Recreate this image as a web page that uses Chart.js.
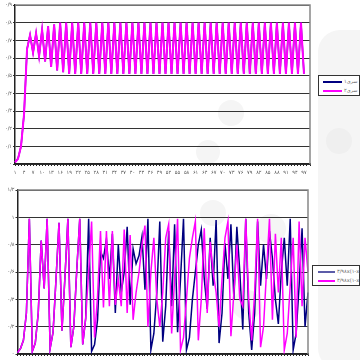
<!DOCTYPE html>
<html>
<head>
<meta charset="utf-8">
<script src="https://cdn.jsdelivr.net/npm/chart.js@4.4.1/dist/chart.umd.min.js"></script>
<style>
  html, body { margin: 0; padding: 0; background: #fff; overflow: hidden; }
  body { width: 360px; height: 360px; position: relative; font-family: "DejaVu Sans", sans-serif; }
  .box { position: absolute; left: 0; width: 360px; }
  .deco { position: absolute; background: #f5f5f5; border-radius: 50%; }
  .legend { position: absolute; border: 1px solid #333; background: #fff; font-size: 5px; color: #666; }
  .legend div { position: relative; height: 9px; line-height: 9px; white-space: nowrap; }
  .legend span.ln { position: absolute; top: 4px; height: 2px; }
  .legend span.tx { position: absolute; }
</style>
</head>
<body>
<!-- faint background shapes -->
<div class="deco" style="left:318px;top:30px;width:70px;height:340px;border-radius:22px;"></div>
<div class="deco" style="left:236px;top:44px;width:30px;height:30px;"></div>
<div class="deco" style="left:218px;top:100px;width:26px;height:26px;"></div>
<div class="deco" style="left:326px;top:128px;width:26px;height:26px;background:#efefef"></div>
<div class="deco" style="left:196px;top:140px;width:24px;height:24px;"></div>
<div class="deco" style="left:200px;top:200px;width:26px;height:26px;"></div>
<div class="deco" style="left:256px;top:214px;width:30px;height:30px;"></div>
<div class="deco" style="left:232px;top:290px;width:30px;height:30px;"></div>

<div class="box" style="top:0;height:180px"><canvas id="js-chart-top"></canvas></div>
<div class="box" style="top:180px;height:190px"><canvas id="js-chart-bottom"></canvas></div>

<div class="legend" style="left:318px;top:75px;width:40px;height:19px;">
  <div style="margin-top:1px"><span class="ln" style="left:4px;width:19px;background:#000080"></span><span class="tx" style="left:25px" id="lg1"></span></div>
  <div><span class="ln" style="left:4px;width:19px;background:#ff00ff"></span><span class="tx" style="left:25px" id="lg2"></span></div>
</div>
<div class="legend" style="left:312px;top:265px;width:46px;height:19px;">
  <div style="margin-top:1px"><span class="ln" style="left:5px;width:17px;background:#5c5ca8"></span><span class="tx" style="left:24px" id="lg3"></span></div>
  <div><span class="ln" style="left:5px;width:17px;background:#ff00ff"></span><span class="tx" style="left:24px" id="lg4"></span></div>
</div>

<script>
// Data
const pointCount = 99;
const topSeriesNames = ['سری۱', 'سری۲'];
const bottomSeriesNames = ['۳/۹۸x(۱-x)', '۳/۹۸x(۱-x)'];

const topSeriesOne = [0.01,0.03,0.10,0.28,0.65,0.73,0.63,0.74,0.61,0.76,0.58,0.78,0.55,0.79,0.53,0.80,0.52,0.80,0.51,
  0.80,0.51,0.80,0.51,0.80,0.51,0.80,0.51,0.80,0.51,0.80,0.51,0.80,0.51,0.80,0.51,0.80,0.51,0.80,0.51,0.80,0.51,
  0.80,0.51,0.80,0.51,0.80,0.51,0.80,0.51,0.80,0.51,0.80,0.51,0.80,0.51,0.80,0.51,0.80,0.51,0.80,0.51,
  0.80,0.51,0.80,0.51,0.80,0.51,0.80,0.51,0.80,0.51,0.80,0.51,0.80,0.51,0.80,0.51,0.80,0.51,0.80,0.51,
  0.80,0.51,0.80,0.51,0.80,0.51,0.80,0.51,0.80,0.51,0.80,0.51,0.80,0.51,0.80,0.51];
const topSeriesTwo = [0.01,0.03,0.10,0.28,0.65,0.73,0.63,0.74,0.61,0.76,0.58,0.78,0.55,0.79,0.53,0.80,0.52,0.80,0.51,
  0.80,0.51,0.80,0.51,0.80,0.51,0.80,0.51,0.80,0.51,0.80,0.51,0.80,0.51,0.80,0.51,0.80,0.51,0.80,0.51,0.80,0.51,
  0.80,0.51,0.80,0.51,0.80,0.51,0.80,0.51,0.80,0.51,0.80,0.51,0.80,0.51,0.80,0.51,0.80,0.51,0.80,0.51,
  0.80,0.51,0.80,0.51,0.80,0.51,0.80,0.51,0.80,0.51,0.80,0.51,0.80,0.51,0.80,0.51,0.80,0.51,0.80,0.51,
  0.80,0.51,0.80,0.51,0.80,0.51,0.80,0.51,0.80,0.51,0.80,0.51,0.80,0.51,0.80,0.51];

const bottomSeriesOne = [0.01,0.04,0.10,0.30,0.99,0.02,0.08,0.30,0.83,0.48,0.99,0.04,0.16,0.55,0.96,0.17,0.56,0.99,0.05,0.20,
  0.62,0.99,0.07,0.26,0.99,0.02,0.07,0.25,0.75,0.70,0.84,0.55,0.88,0.30,0.80,0.45,0.60,0.93,0.36,0.77,
  0.66,0.72,0.86,0.47,0.99,0.03,0.15,0.45,0.97,0.09,0.35,0.90,0.35,0.95,0.16,0.55,0.99,0.03,0.12,0.40,
  0.60,0.80,0.91,0.55,0.33,0.85,0.50,0.98,0.08,0.30,0.81,0.55,0.95,0.40,0.93,0.60,0.18,0.99,0.30,0.03,
  0.30,0.97,0.50,0.80,0.55,0.90,0.70,0.40,0.22,0.60,0.85,0.50,0.99,0.03,0.15,0.50,0.92,0.20,0.45];
const bottomSeriesTwo = [0.01,0.04,0.10,0.30,0.99,0.02,0.08,0.30,0.83,0.48,0.99,0.04,0.16,0.55,0.96,0.17,0.56,0.99,0.05,0.20,
  0.62,0.99,0.07,0.26,0.60,0.97,0.12,0.42,0.90,0.34,0.90,0.35,0.90,0.36,0.55,0.35,0.91,0.30,0.87,0.25,
  0.45,0.60,0.80,0.94,0.20,0.60,0.85,0.40,0.20,0.45,0.85,0.95,0.15,0.55,0.99,0.03,0.12,0.40,0.70,0.85,
  0.97,0.10,0.40,0.92,0.30,0.82,0.60,0.45,0.20,0.55,0.85,0.97,0.13,0.45,0.80,0.40,0.35,0.99,0.40,0.10,
  0.45,0.99,0.05,0.20,0.60,0.99,0.25,0.88,0.45,0.85,0.03,0.15,0.50,0.85,0.12,0.97,0.35,0.85,0.60];

const topTicks = {min: 0, max: 0.9, step: 0.1};
const bottomTicks = {min: 0, max: 1.2, step: 0.2};

// Persian digits
const faDigits = '۰۱۲۳۴۵۶۷۸۹';
function toFa(str) {
  return String(str).replace(/[0-9]/g, d => faDigits[d]).replace('.', '/');
}

let categories = [];
for (let i = 1; i <= pointCount; i++) categories.push(toFa(i));

document.getElementById('lg1').textContent = topSeriesNames[0];
document.getElementById('lg2').textContent = topSeriesNames[1];
document.getElementById('lg3').textContent = bottomSeriesNames[0];
document.getElementById('lg4').textContent = bottomSeriesNames[1];

Chart.defaults.font.family = '"DejaVu Sans", sans-serif';
Chart.defaults.color = '#444';
Chart.defaults.animation = false;
Chart.defaults.plugins.legend.display = false;
Chart.defaults.plugins.tooltip.enabled = false;

function makeOptions(ticks, pad, yWidth, xHeight) {
  return {
    responsive: false,
    maintainAspectRatio: false,
    layout: {padding: pad},
    elements: {point: {radius: 0}, line: {tension: 0}},
    scales: {
      x: {
        offset: false,
        grid: {display: true, drawOnChartArea: false, drawTicks: true, tickLength: 2, color: '#222'},
        border: {display: true, color: '#222', width: 1.5},
        ticks: {
          autoSkip: false, maxRotation: 0, minRotation: 0, padding: 4,
          font: {size: 5}, color: '#555',
          callback: function (v, i) { return i % 3 === 0 ? categories[i] : ''; }
        },
        afterFit: function (s) { s.height = xHeight; }
      },
      y: {
        min: ticks.min, max: ticks.max,
        grid: {color: '#333', lineWidth: 1, drawTicks: true, tickLength: 2},
        border: {display: true, color: '#222', width: 1.5},
        ticks: {
          stepSize: ticks.step, padding: 1, font: {size: 5}, color: '#555',
          callback: function (v) { return toFa(Math.round(v * 10) / 10); }
        },
        afterFit: function (s) { s.width = yWidth; }
      }
    }
  };
}

// plot frame (top/right grey border)
const framePlugin = {
  id: 'frame',
  afterDraw(chart) {
    const a = chart.chartArea, ctx = chart.ctx;
    ctx.save();
    ctx.strokeStyle = '#888';
    ctx.lineWidth = 1.5;
    ctx.beginPath();
    ctx.moveTo(a.left, a.top);
    ctx.lineTo(a.right, a.top);
    ctx.lineTo(a.right, a.bottom);
    ctx.stroke();
    ctx.restore();
  }
};

let topCon = document.getElementById('js-chart-top');
topCon.width = 360; topCon.height = 180;
new Chart(topCon, {
  type: 'line',
  data: {
    labels: categories,
    datasets: [
      {label: topSeriesNames[0], data: topSeriesOne, borderColor: '#000080', borderWidth: 1.5, order: 2},
      {label: topSeriesNames[1], data: topSeriesTwo, borderColor: '#ff00ff', borderWidth: 2, order: 1}
    ]
  },
  options: makeOptions(topTicks, {top: 5, right: 50, left: 0, bottom: 0}, 15, 16),
  plugins: [framePlugin]
});

let bottomCon = document.getElementById('js-chart-bottom');
bottomCon.width = 360; bottomCon.height = 190;
new Chart(bottomCon, {
  type: 'line',
  data: {
    labels: categories,
    datasets: [
      {label: bottomSeriesNames[0], data: bottomSeriesOne, borderColor: '#000080', borderWidth: 1.5, order: 2},
      {label: bottomSeriesNames[1], data: bottomSeriesTwo, borderColor: '#ff00ff', borderWidth: 1.5, order: 1}
    ]
  },
  options: makeOptions(bottomTicks, {top: 10, right: 52, left: 0, bottom: 0}, 17.5, 16),
  plugins: [framePlugin]
});
</script>
</body>
</html>
